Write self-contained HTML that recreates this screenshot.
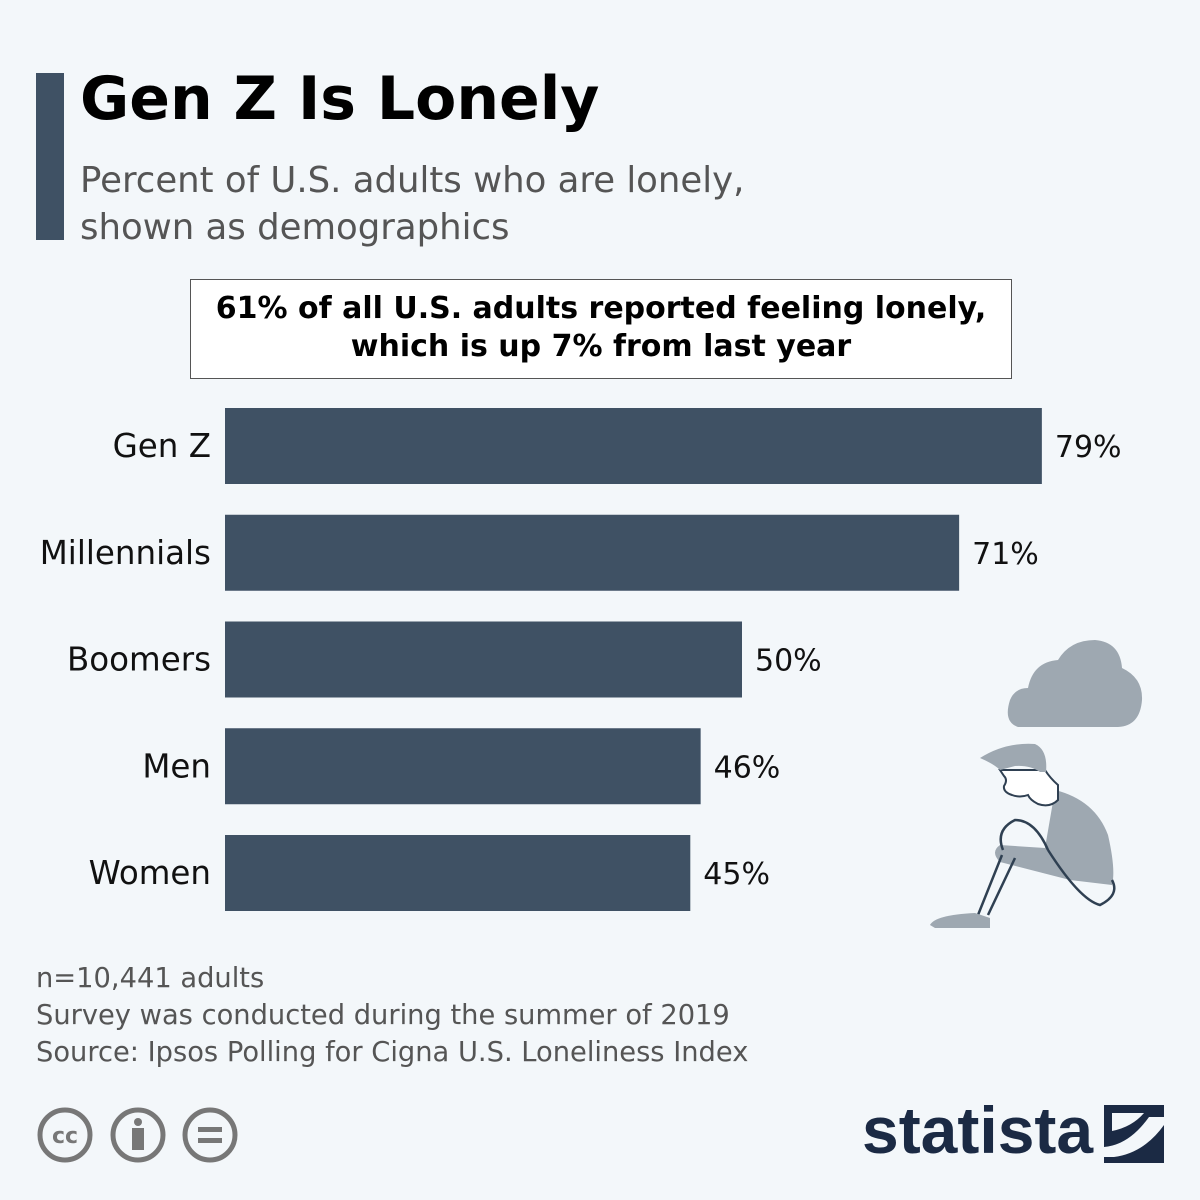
<!DOCTYPE html>
<html><head><meta charset="utf-8"><style>
body{margin:0;width:1200px;height:1200px;background:#f3f7fa;font-family:"DejaVu Sans","Liberation Sans",sans-serif;position:relative;overflow:hidden}
.abs{position:absolute}
</style></head><body>
<div class="abs" style="left:36px;top:73px;width:28px;height:167px;background:#3f5164"></div>
<div class="abs" style="left:80px;top:64px;font-size:60px;font-weight:bold;color:#000">Gen Z Is Lonely</div>
<div class="abs" style="left:80px;top:157px;font-size:35.5px;line-height:47px;color:#555">Percent of U.S. adults who are lonely,<br>shown as demographics</div>
<div class="abs" style="left:190px;top:279px;width:822px;height:100px;border:1px solid #555;background:#fff;box-sizing:border-box;text-align:center;font-size:30px;font-weight:bold;line-height:38px;padding-top:10px">61% of all U.S. adults reported feeling lonely,<br>which is up 7% from last year</div>
<svg class="abs" style="left:0;top:0" width="1200" height="1200" id="chart"></svg>
<svg class="abs" style="left:0;top:0" width="1200" height="1200">
<path d="M1018,727 Q1003,722 1010,700 Q1015,688 1028,688 Q1033,662 1058,660 Q1070,640 1095,640 Q1120,642 1122,668 Q1143,678 1142,700 Q1140,726 1118,727 Z" fill="#9ea8b1"/>
<path d="M1055,790 Q1095,800 1108,835 Q1116,870 1112,885 L1070,880 L1000,862 Q990,852 1000,845 L1045,848 Z" fill="#9ea8b1"/>
<path d="M1000,770 L1045,770 Q1050,778 1058,785 L1058,800 Q1050,808 1038,804 Q1030,800 1028,795 Q1020,798 1012,795 Q1003,792 1004,786 Q1008,780 1004,776 Z" fill="#fff" stroke="#2f4052" stroke-width="2"/>
<path d="M980,758 Q1005,742 1035,744 Q1048,750 1046,772 L1040,772 Q1030,765 1015,766 L1000,770 Q994,764 980,758 Z" fill="#9ea8b1"/>
<path d="M1003,850 Q995,830 1015,820 Q1035,820 1048,850 M1002,855 L978,915 M1015,858 L988,915 M1048,850 Q1080,900 1100,905 Q1120,895 1112,880" fill="none" stroke="#2f4052" stroke-width="2.5"/>
<path d="M930,925 Q935,915 975,913 L990,918 L990,928 L935,928 Z" fill="#9ea8b1"/>
</svg>
<div class="abs" style="left:36px;top:960px;font-size:27.3px;line-height:37px;color:#555">n=10,441 adults<br>Survey was conducted during the summer of 2019<br>Source: Ipsos Polling for Cigna U.S. Loneliness Index</div>
<svg class="abs" style="left:36px;top:1106px" width="210" height="58">
<g fill="none" stroke="#777" stroke-width="5"><circle cx="29" cy="29" r="25"/><circle cx="102" cy="29" r="25"/><circle cx="174" cy="29" r="25"/></g>
<text x="29" y="37" text-anchor="middle" font-size="22" font-weight="bold" fill="#777" font-family="DejaVu Sans">cc</text>
<circle cx="102" cy="16" r="4" fill="#777"/><rect x="96" y="22" width="12" height="22" fill="#777"/>
<rect x="162" y="21" width="24" height="5" fill="#777"/><rect x="162" y="32" width="24" height="5" fill="#777"/>
</svg>
<div class="abs" style="left:862px;top:1092px;font-size:66px;font-weight:bold;color:#1b2a44;font-family:'Liberation Sans',sans-serif">statista</div>
<svg class="abs" style="left:1104px;top:1105px" width="60" height="58"><rect width="60" height="58" fill="#1b2a44"/><path d="M0,42 Q25,40 45,12 L60,12 L60,20 Q40,48 10,52 L0,52 Z M8,8 L40,8 Q28,22 8,26 Z" fill="#f3f7fa"/></svg>
<script>
const categories=["Gen Z","Millennials","Boomers","Men","Women"];
const values=[79,71,50,46,45];
const labels=["79%","71%","50%","46%","45%"];
const svg=document.getElementById('chart');
const NS='http://www.w3.org/2000/svg';
const x0=225,scale=10.34,y0=408,step=106.75,bh=76;
function xs(v){return x0+v*scale;}
function ys(i){return y0+i*step;}
categories.forEach((c,i)=>{
 const r=document.createElementNS(NS,'rect');
 r.setAttribute('x',x0);r.setAttribute('y',ys(i));r.setAttribute('width',xs(values[i])-x0);r.setAttribute('height',bh);r.setAttribute('fill','#3f5164');
 
 
 svg.appendChild(r);
 const t=document.createElementNS(NS,'text');
 t.setAttribute('x',211);t.setAttribute('y',ys(i)+bh/2+11);t.setAttribute('text-anchor','end');t.setAttribute('font-size','32.5');t.setAttribute('fill','#111');t.setAttribute('font-family','DejaVu Sans');
 t.textContent=c;
 
 
 svg.appendChild(t);
 const v=document.createElementNS(NS,'text');
 v.setAttribute('x',xs(values[i])+13);v.setAttribute('y',ys(i)+bh/2+11);v.setAttribute('font-size','30');v.setAttribute('fill','#111');v.setAttribute('font-family','DejaVu Sans');
 v.textContent=labels[i];
 
 
 svg.appendChild(v);
});
</script>
</body></html>
